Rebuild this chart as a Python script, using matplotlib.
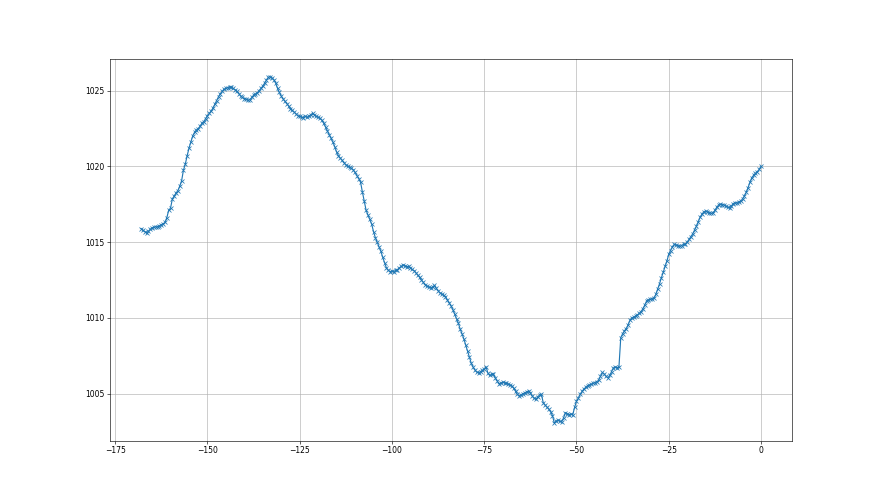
import numpy as np
import matplotlib
matplotlib.use("Agg")
import matplotlib.pyplot as plt

# hours before now, one reading every half hour
hours = np.arange(-168, 0.5, 0.5)

# pressure readings (hPa), 10 per row = 5 hours per row
pressure = [
    1015.90, 1015.80, 1015.70, 1015.62, 1015.72, 1015.85, 1015.95, 1015.98, 1016.02, 1016.00,
    1016.08, 1016.15, 1016.22, 1016.30, 1016.62, 1017.10, 1017.25, 1017.85, 1018.05, 1018.25,
    1018.40, 1018.70, 1019.05, 1019.75, 1020.15, 1020.70, 1021.20, 1021.60, 1022.00, 1022.25,
    1022.40, 1022.50, 1022.65, 1022.85, 1022.95, 1023.15, 1023.35, 1023.50, 1023.65, 1023.85,
    1024.10, 1024.35, 1024.60, 1024.80, 1024.95, 1025.10, 1025.15, 1025.20, 1025.25, 1025.22,
    1025.15, 1025.05, 1024.95, 1024.80, 1024.65, 1024.55, 1024.48, 1024.42, 1024.38, 1024.40,
    1024.55, 1024.70, 1024.78, 1024.85, 1025.00, 1025.15, 1025.30, 1025.50, 1025.70, 1025.88,
    1025.92, 1025.85, 1025.72, 1025.50, 1025.15, 1024.88, 1024.65, 1024.45, 1024.30, 1024.15,
    1023.98, 1023.82, 1023.70, 1023.58, 1023.45, 1023.35, 1023.30, 1023.25, 1023.22, 1023.30,
    1023.25, 1023.32, 1023.40, 1023.52, 1023.40, 1023.30, 1023.25, 1023.18, 1023.05, 1022.85,
    1022.60, 1022.35, 1022.10, 1021.85, 1021.60, 1021.30, 1020.95, 1020.70, 1020.55, 1020.40,
    1020.25, 1020.10, 1020.00, 1019.95, 1019.88, 1019.78, 1019.60, 1019.40, 1019.20, 1018.95,
    1018.30, 1017.70, 1017.10, 1016.80, 1016.50, 1016.20, 1015.70, 1015.30, 1015.00, 1014.70,
    1014.40, 1014.00, 1013.65, 1013.30, 1013.15, 1013.05, 1013.10, 1013.05, 1013.15, 1013.18,
    1013.30, 1013.40, 1013.50, 1013.45, 1013.38, 1013.40, 1013.30, 1013.20, 1013.12, 1012.98,
    1012.82, 1012.68, 1012.50, 1012.35, 1012.20, 1012.10, 1012.05, 1012.00, 1012.02, 1012.15,
    1011.95, 1011.80, 1011.65, 1011.58, 1011.50, 1011.40, 1011.20, 1011.00, 1010.80, 1010.55,
    1010.25, 1009.95, 1009.65, 1009.25, 1008.95, 1008.60, 1008.20, 1007.80, 1007.40, 1007.00,
    1006.75, 1006.55, 1006.42, 1006.38, 1006.45, 1006.55, 1006.60, 1006.78, 1006.35, 1006.20,
    1006.28, 1006.30, 1006.05, 1005.85, 1005.65, 1005.70, 1005.75, 1005.72, 1005.68, 1005.65,
    1005.58, 1005.52, 1005.35, 1005.15, 1004.95, 1004.85, 1004.92, 1005.00, 1005.05, 1005.12,
    1005.18, 1005.05, 1004.85, 1004.70, 1004.62, 1004.78, 1004.92, 1004.95, 1004.40, 1004.25,
    1004.12, 1003.98, 1003.80, 1003.55, 1003.05, 1003.20, 1003.25, 1003.18, 1003.15, 1003.40,
    1003.75, 1003.68, 1003.62, 1003.65, 1003.62, 1004.10, 1004.50, 1004.70, 1004.95, 1005.15,
    1005.30, 1005.42, 1005.52, 1005.58, 1005.62, 1005.68, 1005.72, 1005.80, 1005.88, 1006.15,
    1006.40, 1006.30, 1006.15, 1006.05, 1006.20, 1006.45, 1006.70, 1006.75, 1006.72, 1006.74,
    1008.70, 1008.95, 1009.15, 1009.30, 1009.55, 1009.85, 1010.00, 1010.05, 1010.12, 1010.20,
    1010.30, 1010.42, 1010.60, 1010.85, 1011.12, 1011.20, 1011.22, 1011.25, 1011.32, 1011.55,
    1011.90, 1012.25, 1012.65, 1013.00, 1013.40, 1013.75, 1014.20, 1014.45, 1014.70, 1014.85,
    1014.82, 1014.78, 1014.72, 1014.78, 1014.85, 1014.85, 1015.00, 1015.18, 1015.35, 1015.55,
    1015.80, 1016.05, 1016.35, 1016.65, 1016.85, 1017.00, 1017.05, 1017.00, 1016.95, 1016.90,
    1016.92, 1017.10, 1017.30, 1017.45, 1017.50, 1017.48, 1017.45, 1017.38, 1017.30, 1017.28,
    1017.40, 1017.55, 1017.60, 1017.58, 1017.65, 1017.72, 1017.85, 1018.05, 1018.30, 1018.60,
    1018.95, 1019.25, 1019.42, 1019.55, 1019.65, 1019.80, 1020.00,
]


def main():
    fig = plt.figure(figsize=(16, 9), dpi=55)
    plt.plot(hours, pressure, marker='x', linewidth=1.5)
    plt.grid(True)
    fig.savefig("out.png", dpi=55)


if __name__ == "__main__":
    main()
